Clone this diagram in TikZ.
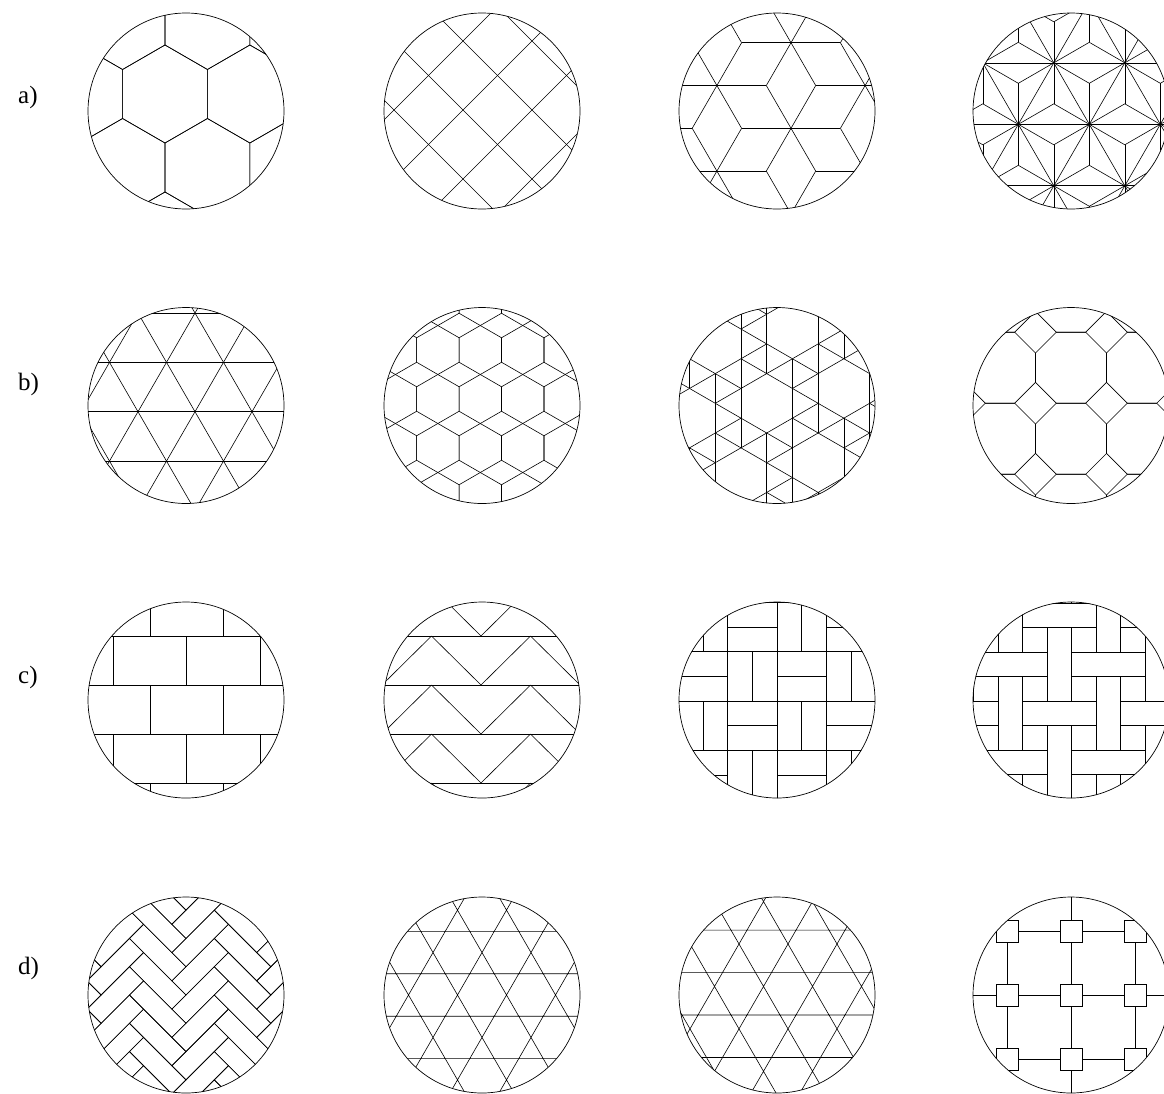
\documentclass[tikz,border=0pt]{standalone}
\usepackage{fontspec}
\setmainfont{Liberation Serif}
\tikzset{
 tile/.style={line width=0.6pt, black},
 rim/.style={line width=0.7pt, black},
 lbl/.style={font=\fontsize{25}{30}\selectfont, inner sep=0pt, anchor=west},
}
\begin{document}
\begin{tikzpicture}[x=1pt,y=1pt]
\useasboundingbox (0,0) rectangle (1164,-1093);
\node[lbl] (la) at (18,-97) {a)};
\node[lbl] (lb) at (18,-384) {b)};
\node[lbl] (lc) at (18,-677) {c)};
\node[lbl] (ld) at (18,-968) {d)};
% ---------- a1 hexagons
\begin{scope}[shift={(186,-111)}]
\begin{scope}\clip (0,0) circle (98pt);
\foreach \i in {-3,...,3}{\foreach \j in {-3,...,3}{
 \pgfmathsetmacro\cx{-21+84.87*\i+42.44*\j}
 \pgfmathsetmacro\cy{17+73.5*\j}
 \draw[tile] (\cx+42.44,\cy+24.5) -- (\cx,\cy+49) -- (\cx-42.44,\cy+24.5) -- (\cx-42.44,\cy-24.5) -- (\cx,\cy-49) -- (\cx+42.44,\cy-24.5) -- cycle;
}}
\end{scope}
\draw[rim] (0,0) circle (98pt);
\end{scope}
% ---------- a2 diagonal squares
\begin{scope}[shift={(482,-111)}]
\begin{scope}\clip (0,0) circle (98pt);
\foreach \k in {-3,...,3}{
 \pgfmathsetmacro\c{20+69*\k}
 \draw[tile] (-120,-120+\c) -- (120,120+\c);
 \pgfmathsetmacro\d{-18+69*\k}
 \draw[tile] (-120,120+\d) -- (120,-120+\d);
}
\end{scope}
\draw[rim] (0,0) circle (98pt);
\end{scope}
% ---------- a3 rhombille
\begin{scope}[shift={(777,-111)}]
\begin{scope}\clip (0,0) circle (98pt);
\foreach \i in {-3,...,3}{\foreach \j in {-4,...,4}{
 \pgfmathsetmacro\cx{14+74.1*\i}
 \pgfmathsetmacro\cy{-17.3+42.78*\i+85.56*\j}
 \foreach \a in {0,60,...,300}{\draw[tile] (\cx,\cy) -- ++(\a:49.4pt);}
}}
\end{scope}
\draw[rim] (0,0) circle (98pt);
\end{scope}
% ---------- a4 asanoha
\begin{scope}[shift={(1071,-111)}]
\begin{scope}\clip (0,0) circle (98pt);
\foreach \i in {-5,...,5}{
 \pgfmathsetmacro\bx{18.3+71*\i}
 \draw[tile] (\bx-100,-186.5) -- (\bx+100,159.9);
 \draw[tile] (\bx+100,-186.5) -- (\bx-100,159.9);
}
\foreach \k in {-2,...,2}{
 \pgfmathsetmacro\hy{-13.3+61.49*\k}
 \draw[tile] (-110,\hy) -- (110,\hy);
}
\foreach \i in {-4,...,4}{\foreach \j in {-3,...,3}{
 \pgfmathsetmacro\cx{18.3+71*\i+35.5*\j}
 \pgfmathsetmacro\cy{-13.3+61.49*\j}
 \foreach \a in {30,90,...,330}{\draw[tile] (\cx,\cy) -- ++(\a:41pt);}
 \fill (\cx,\cy) circle (1.3pt);
}}
\end{scope}
\draw[rim] (0,0) circle (98pt);
\end{scope}
% ---------- b1 triangles
\begin{scope}[shift={(186,-405.5)}]
\begin{scope}\clip (0,0) circle (98pt);
\foreach \k in {-2,...,2}{
 \pgfmathsetmacro\hy{-6.2+49.36*\k}
 \draw[tile] (-110,\hy) -- (110,\hy);
}
\foreach \i in {-4,...,4}{
 \pgfmathsetmacro\bx{9+57*\i}
 \draw[tile] (\bx-100,-179.4) -- (\bx+100,167);
 \draw[tile] (\bx+100,-179.4) -- (\bx-100,167);
}
\end{scope}
\draw[rim] (0,0) circle (98pt);
\end{scope}
% ---------- b2 hexagons + rhombi
\begin{scope}[shift={(482,-405.5)}]
\begin{scope}\clip (0,0) circle (98pt);
\foreach \i in {-3,...,3}{\foreach \j in {-3,...,3}{
 \pgfmathsetmacro\cx{-1.7+42.44*\i}
 \pgfmathsetmacro\cy{6.5+49*\j}
 \draw[tile] (\cx+21.22,\cy+12.25) -- (\cx,\cy+24.5) -- (\cx-21.22,\cy+12.25) -- (\cx-21.22,\cy-12.25) -- (\cx,\cy-24.5) -- (\cx+21.22,\cy-12.25) -- cycle;
}}
\end{scope}
\draw[rim] (0,0) circle (98pt);
\end{scope}
% ---------- b3 snub hexagonal
\begin{scope}[shift={(777,-405.5)}]
\begin{scope}\clip (0,0) circle (98pt);
\foreach \a in {-5,...,5}{\foreach \b in {-7,...,7}{
 \pgfmathtruncatemacro\r{Mod(\a+3*\b,7)}
 \pgfmathtruncatemacro\rA{Mod(\a+1+3*\b,7)}
 \pgfmathtruncatemacro\rB{Mod(\a+3*\b+3,7)}
 \pgfmathtruncatemacro\rC{Mod(\a+3*\b+2,7)}
 \pgfmathsetmacro\px{-10.3+25.72*\a}
 \pgfmathsetmacro\py{2.2+14.85*\a+29.7*\b}
 \ifnum\r>0
  \ifnum\rA>0 \draw[tile] (\px,\py) -- ++(25.72,14.85); \fi
  \ifnum\rB>0 \draw[tile] (\px,\py) -- ++(0,29.7); \fi
  \ifnum\rC>0 \draw[tile] (\px,\py) -- ++(-25.72,14.85); \fi
 \fi
}}
\end{scope}
\draw[rim] (0,0) circle (98pt);
\end{scope}
% ---------- b4 octagons and squares
\begin{scope}[shift={(1071,-405.5)}]
\begin{scope}\clip (0,0) circle (98pt);
\foreach \i in {-2,...,2}{\foreach \j in {-2,...,2}{
 \pgfmathsetmacro\cx{71*\i}
 \pgfmathsetmacro\cy{37.8+71*\j}
 \draw[tile] (\cx+35.5,\cy+14.7) -- (\cx+14.7,\cy+35.5) -- (\cx-14.7,\cy+35.5) -- (\cx-35.5,\cy+14.7) -- (\cx-35.5,\cy-14.7) -- (\cx-14.7,\cy-35.5) -- (\cx+14.7,\cy-35.5) -- (\cx+35.5,\cy-14.7) -- cycle;
}}
\end{scope}
\draw[rim] (0,0) circle (98pt);
\end{scope}
% ---------- c1 bricks
\begin{scope}[shift={(186,-700)}]
\begin{scope}\clip (0,0) circle (98pt);
\foreach \k in {-3,...,2}{
 \pgfmathsetmacro\hy{15+49*\k}
 \draw[tile] (-110,\hy) -- (110,\hy);
 \pgfmathtruncatemacro\pp{Mod(\k,2)}
 \foreach \m in {-2,...,2}{
  \pgfmathsetmacro\vx{0.7-36.75*\pp+73.5*\m}
  \draw[tile] (\vx,\hy) -- (\vx,\hy+49);
 }
}
\end{scope}
\draw[rim] (0,0) circle (98pt);
\end{scope}
% ---------- c2 zigzag bands
\begin{scope}[shift={(482,-700)}]
\begin{scope}\clip (0,0) circle (98pt);
\foreach \k in {-3,...,2}{
 \pgfmathsetmacro\hy{15+49*\k}
 \draw[tile] (-110,\hy) -- (110,\hy);
 \foreach \m in {-2,...,2}{
  \pgfmathsetmacro\zx{-50.5+99*\m}
  \draw[tile] (\zx,\hy+49) -- (\zx+49.5,\hy) -- (\zx+99,\hy+49);
 }
}
\end{scope}
\draw[rim] (0,0) circle (98pt);
\end{scope}
% ---------- c3 basket weave
\begin{scope}[shift={(777,-700)}]
\begin{scope}\clip (0,0) circle (98pt);
\foreach \i in {-2,...,1}{\foreach \j in {-3,...,2}{
 \pgfmathsetmacro\qx{49.3*\i}
 \pgfmathsetmacro\qy{-1+49.3*\j}
 \pgfmathtruncatemacro\pp{Mod(\i+\j,2)}
 \draw[tile] (\qx,\qy) rectangle ++(49.3,49.3);
 \ifnum\pp=0 \draw[tile] (\qx,\qy+24.65) -- ++(49.3,0);
 \else \draw[tile] (\qx+24.65,\qy) -- ++(0,49.3); \fi
}}
\end{scope}
\draw[rim] (0,0) circle (98pt);
\end{scope}
% ---------- c4 weave
\begin{scope}[shift={(1071,-700)}]
\begin{scope}\clip (0,0) circle (98pt);
\foreach \a in {-3,...,3}{\foreach \b in {-3,...,3}{
 \pgfmathsetmacro\tx{0.7+24.5*(2*\a-2*\b)}
 \pgfmathsetmacro\ty{-1+24.5*(2*\a+2*\b)}
 \draw[tile] (\tx-24.5,\ty) rectangle ++(24.5,73.5);
 \draw[tile] (\tx,\ty+24.5) rectangle ++(73.5,24.5);
 \draw[tile] (\tx,\ty+49) rectangle ++(24.5,24.5);
 \draw[tile] (\tx,\ty) rectangle ++(24.5,24.5);
}}
\end{scope}
\draw[rim] (0,0) circle (98pt);
\end{scope}
% ---------- d1 herringbone (3:1 bricks)
\begin{scope}[shift={(186,-995)}]
\begin{scope}\clip (0,0) circle (98pt);
\begin{scope}[rotate=45]
\foreach \n in {-3,...,3}{\foreach \k in {-7,...,7}{
 \pgfmathsetmacro\hx{20*(\k+3*\n)}
 \pgfmathsetmacro\hy{20*(\k-3*\n)}
 \draw[tile] (\hx,\hy) rectangle ++(60,20);
 \draw[tile] (\hx,\hy+20) rectangle ++(20,60);
}}
\end{scope}
\end{scope}
\draw[rim] (0,0) circle (98pt);
\end{scope}
% ---------- d2 trihexagonal (kagome)
\begin{scope}[shift={(482,-995)}]
\begin{scope}\clip (0,0) circle (98pt);
\foreach \i in {-5,...,5}{\foreach \j in {-4,...,4}{
 \pgfmathsetmacro\px{12.25+49*\i+24.5*\j}
 \pgfmathsetmacro\py{-21.2+42.44*\j}
 \draw[tile] (\px,\py) -- ++(24.5,0) -- ++(-12.25,21.22) -- cycle;
 \draw[tile] (\px+24.5,\py) -- ++(24.5,0) -- ++(-12.25,-21.22) -- cycle;
}}
\end{scope}
\draw[rim] (0,0) circle (98pt);
\end{scope}
% ---------- d3 distorted kagome: truncated triangles and triangles
\begin{scope}[shift={(777,-995)}]
\begin{scope}\clip (0,0) circle (98pt);
\foreach \i in {-5,...,5}{\foreach \j in {-4,...,4}{
 \pgfmathsetmacro\px{-30+49*\i+24.5*\j}
 \pgfmathsetmacro\py{-20+42.44*\j}
 \draw[tile] (\px,\py) -- ++(33,0) -- ++(-16.5,28.58) -- cycle;
 \draw[tile] (\px+33,\py) -- ++(16,0) -- ++(-8,-13.86) -- cycle;
}}
\end{scope}
\draw[rim] (0,0) circle (98pt);
\end{scope}
% ---------- d4 squares joined by lines
\begin{scope}[shift={(1071,-995)}]
\begin{scope}\clip (0,0) circle (98pt);
\foreach \i in {-2,...,2}{\foreach \j in {-2,...,2}{
 \pgfmathsetmacro\sx{64*\i}
 \pgfmathsetmacro\sy{64*\j}
 \draw[tile] (\sx-11,\sy-11) rectangle (\sx+11,\sy+11);
 \draw[tile] (\sx+11,\sy) -- (\sx+53,\sy);
 \draw[tile] (\sx,\sy+11) -- (\sx,\sy+53);
}}
\end{scope}
\draw[rim] (0,0) circle (98pt);
\end{scope}
\end{tikzpicture}
\end{document}
